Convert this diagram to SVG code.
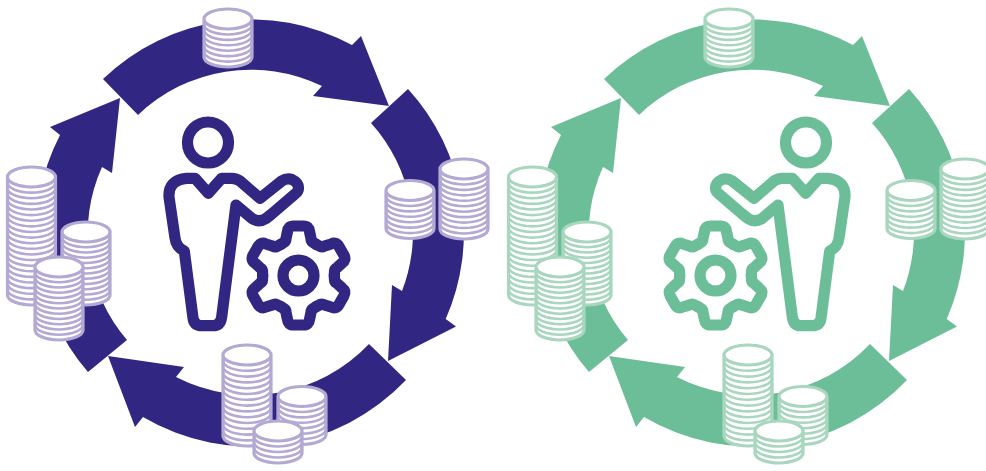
<svg xmlns="http://www.w3.org/2000/svg" width="986" height="471" viewBox="0 0 986 471">
<style>
.bg{fill:#fff}
.arrow{stroke:none}
.body{fill:#fff;stroke-width:3.2}
.lines{fill:none;stroke-width:2.6}
.icon{fill:none;stroke-width:11.200;stroke-linecap:round;stroke-linejoin:round}
.dark{fill:#312783}
.lightP{stroke:#b3a9d3}
.darkS{stroke:#312783}
.green{fill:#6cbe99}
.lightG{stroke:#a9d6bf}
.greenS{stroke:#6cbe99}
</style>
<defs>
<path id="a1" d="M103 79A213 213 0 0 1 352 45L361 36L389 106L313 96L322 86A163 163 0 0 0 138 115Z"/>
<path id="a2" d="M408 89A213 213 0 0 1 445.7 319L456 326.5L388 361L392 285L402 291A163 163 0 0 0 371 123Z"/>
<path id="a3" d="M406 380A213 213 0 0 1 143 417L135 427L108 356L184 367L176 377A163 163 0 0 0 369 344Z"/>
<path id="a4" d="M88 372A213 213 0 0 1 60 135L50 127L120 98L112 173L102 167A163 163 0 0 0 127 340Z"/>
<path id="r" d="M-24 0a24 10 0 0 0 48 0"/>
<g id="s4"><path class="body" d="M-24 0V22A24 10 0 0 0 24 22V0A24 10 0 0 0-24 0A24 10 0 0 0 24 0"/><path class="lines" d="M-24 5.500a24 10 0 0 0 48 0m-48 5.500a24 10 0 0 0 48 0m-48 5.500a24 10 0 0 0 48 0"/></g>
<g id="s6"><path class="body" d="M-24 0V38A24 10 0 0 0 24 38V0A24 10 0 0 0-24 0A24 10 0 0 0 24 0"/><path class="lines" d="M-24 5.430a24 10 0 0 0 48 0m-48 5.430a24 10 0 0 0 48 0m-48 5.430a24 10 0 0 0 48 0m-48 5.430a24 10 0 0 0 48 0m-48 5.430a24 10 0 0 0 48 0m-48 5.430a24 10 0 0 0 48 0"/></g>
<g id="s10"><path class="body" d="M-24 0V60A24 10 0 0 0 24 60V0A24 10 0 0 0-24 0A24 10 0 0 0 24 0"/><path class="lines" d="M-24 5.450a24 10 0 0 0 48 0m-48 5.450a24 10 0 0 0 48 0m-48 5.450a24 10 0 0 0 48 0m-48 5.450a24 10 0 0 0 48 0m-48 5.450a24 10 0 0 0 48 0m-48 5.450a24 10 0 0 0 48 0m-48 5.450a24 10 0 0 0 48 0m-48 5.450a24 10 0 0 0 48 0m-48 5.450a24 10 0 0 0 48 0m-48 5.450a24 10 0 0 0 48 0"/></g>
<g id="s11"><path class="body" d="M-24 0V63A24 10 0 0 0 24 63V0A24 10 0 0 0-24 0A24 10 0 0 0 24 0"/><path class="lines" d="M-24 5.250a24 10 0 0 0 48 0m-48 5.250a24 10 0 0 0 48 0m-48 5.250a24 10 0 0 0 48 0m-48 5.250a24 10 0 0 0 48 0m-48 5.250a24 10 0 0 0 48 0m-48 5.250a24 10 0 0 0 48 0m-48 5.250a24 10 0 0 0 48 0m-48 5.250a24 10 0 0 0 48 0m-48 5.250a24 10 0 0 0 48 0m-48 5.250a24 10 0 0 0 48 0m-48 5.250a24 10 0 0 0 48 0"/></g>
<g id="s13"><path class="body" d="M-24 0V81A24 10 0 0 0 24 81V0A24 10 0 0 0-24 0A24 10 0 0 0 24 0"/><path class="lines" d="M-24 5.800a24 10 0 0 0 48 0m-48 5.800a24 10 0 0 0 48 0m-48 5.800a24 10 0 0 0 48 0m-48 5.800a24 10 0 0 0 48 0m-48 5.800a24 10 0 0 0 48 0m-48 5.800a24 10 0 0 0 48 0m-48 5.800a24 10 0 0 0 48 0m-48 5.800a24 10 0 0 0 48 0m-48 5.800a24 10 0 0 0 48 0m-48 5.800a24 10 0 0 0 48 0m-48 5.800a24 10 0 0 0 48 0m-48 5.800a24 10 0 0 0 48 0m-48 5.800a24 10 0 0 0 48 0"/></g>
<g id="s20"><path class="body" d="M-24 0V118A24 10 0 0 0 24 118V0A24 10 0 0 0-24 0A24 10 0 0 0 24 0"/><path class="lines" d="M-24 5.620a24 10 0 0 0 48 0m-48 5.620a24 10 0 0 0 48 0m-48 5.620a24 10 0 0 0 48 0m-48 5.620a24 10 0 0 0 48 0m-48 5.620a24 10 0 0 0 48 0m-48 5.620a24 10 0 0 0 48 0m-48 5.620a24 10 0 0 0 48 0m-48 5.620a24 10 0 0 0 48 0m-48 5.620a24 10 0 0 0 48 0m-48 5.620a24 10 0 0 0 48 0m-48 5.620a24 10 0 0 0 48 0m-48 5.620a24 10 0 0 0 48 0m-48 5.620a24 10 0 0 0 48 0m-48 5.620a24 10 0 0 0 48 0m-48 5.620a24 10 0 0 0 48 0m-48 5.620a24 10 0 0 0 48 0m-48 5.620a24 10 0 0 0 48 0m-48 5.620a24 10 0 0 0 48 0m-48 5.620a24 10 0 0 0 48 0m-48 5.620a24 10 0 0 0 48 0"/></g>
<g id="person-shape"><circle cx="208" cy="142.500" r="20.500"/><path d="M195 178.300L208.300 193.300L221.700 178.300H231.700Q236.500 178.300 240 181L260 198.300L281.700 181Q287 177.500 292 179.500Q298.500 182.500 298.500 188Q298.500 191.500 295 194L271.700 214L266 218.500Q259 223 252 218.500L236 205L221.700 316.700Q220.500 325.700 213 325.700H202Q194 325.700 193 318L184.300 251Q176 247 175 238L169 197Q168 180 186.700 178.300Z"/></g>
<g id="gear-shape"><circle cx="0" cy="0" r="15.500"/><path id="tooth" d="M-17.900-31L-14-33.500Q-12.500-34.500-12.500-37L-11-44Q-10.500-49.500-5-49.500H5Q10.500-49.500 11-44L12.500-37Q12.500-34.500 14-33.500L17.900-31"/><use href="#tooth" transform="rotate(60)"/><use href="#tooth" transform="rotate(120)"/><use href="#tooth" transform="rotate(180)"/><use href="#tooth" transform="rotate(240)"/><use href="#tooth" transform="rotate(300)"/></g>
</defs>
<rect class="bg" width="986" height="471"/>
<g id="connectors-purple" class="dark arrow"><use href="#a1"/><use href="#a2"/><use href="#a3"/><use href="#a4"/></g>
<g id="connectors-green" class="green arrow" transform="translate(501 0)"><use href="#a1"/><use href="#a2"/><use href="#a3"/><use href="#a4"/></g>
<g id="person-purple" class="icon darkS"><use href="#person-shape"/></g>
<g id="gear-purple" class="icon darkS" transform="translate(298.500 275.500)"><use href="#gear-shape"/></g>
<g id="person-green" class="icon greenS" transform="matrix(-1 0 0 1 1014 0)"><use href="#person-shape"/></g>
<g id="gear-green" class="icon greenS" transform="translate(715.500 275.500)"><use href="#gear-shape"/></g>
<g id="coins-top-purple" class="lightP"><use href="#s6" x="228" y="19"/></g>
<g id="coins-right-purple" class="lightP"><use href="#s6" x="410" y="190.500"/><use href="#s10" x="464" y="169"/></g>
<g id="coins-left-purple" class="lightP"><use href="#s20" x="31.500" y="177"/><use href="#s11" x="86" y="232"/><use href="#s11" x="59" y="267"/></g>
<g id="coins-bottom-purple" class="lightP"><use href="#s13" x="247" y="355"/><use href="#s6" x="302" y="396.500"/><use href="#s4" x="278" y="431"/></g>
<g transform="translate(501 0)">
<g id="coins-top-green" class="lightG"><use href="#s6" x="228" y="19"/></g>
<g id="coins-right-green" class="lightG"><use href="#s6" x="410" y="190.500"/><use href="#s10" x="464" y="169"/></g>
<g id="coins-left-green" class="lightG"><use href="#s20" x="31.500" y="177"/><use href="#s11" x="86" y="232"/><use href="#s11" x="59" y="267"/></g>
<g id="coins-bottom-green" class="lightG"><use href="#s13" x="247" y="355"/><use href="#s6" x="302" y="396.500"/><use href="#s4" x="278" y="431"/></g>
</g>
</svg>
